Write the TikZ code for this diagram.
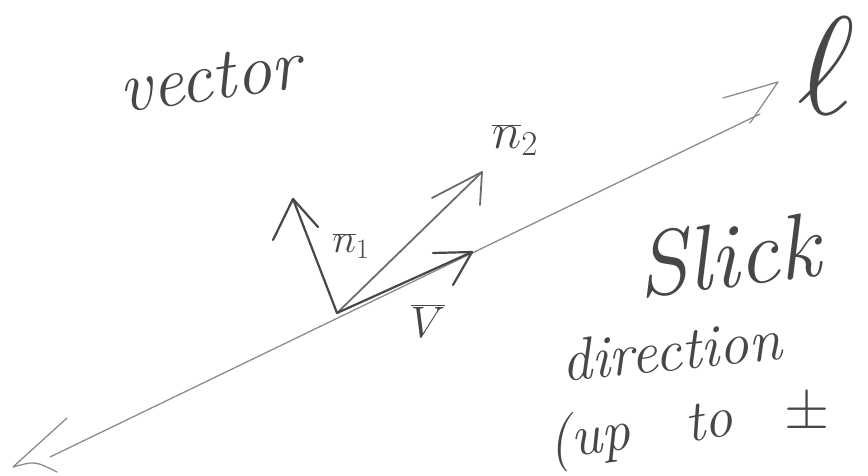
\RequirePackage{fix-cm}
\documentclass[tikz,border=0pt]{standalone}
\usepackage{fontspec}
\definecolor{pencil}{gray}{0.28}
\definecolor{pencillight}{gray}{0.55}
\begin{document}
\begin{tikzpicture}[x=1pt,y=-1pt,
  hand/.style={text=pencil, inner sep=0pt, font=\itshape},
  axisline/.style={draw=pencillight, line width=1.3pt, line cap=round, line join=round},
  vecline/.style={draw=pencil, line width=2.2pt, line cap=round, line join=round},
  veclight/.style={draw=pencil!80, line width=1.8pt, line cap=round, line join=round},
]
\useasboundingbox (0,0) rectangle (868,476);
% line l
\coordinate (O) at (337,313);
\coordinate (A) at (50,457);
\coordinate (B) at (760,114);
\coordinate (Ltip) at (13,467);
\coordinate (Lb1) at (67,418);
\coordinate (Lb2) at (57,472);
\coordinate (Rtip) at (778,82);
\coordinate (Rb1) at (723,98);
\coordinate (Rb2) at (750,123);
\draw[axisline] (A) -- (B);
\draw[axisline] (Lb1) -- (Ltip) .. controls (35,461) .. (Lb2);
\draw[axisline] (Rb1) -- (Rtip) -- (Rb2);
% vectors
\coordinate (N1) at (293,199);
\coordinate (N1a) at (273,240);
\coordinate (N1b) at (318,227);
\coordinate (N2) at (482,172);
\coordinate (N2a) at (432,198);
\coordinate (N2b) at (480,205);
\coordinate (Vt) at (472,252);
\coordinate (Va) at (433,253);
\coordinate (Vb) at (453,285);
\draw[vecline] (O) -- (N1);
\draw[vecline] (N1a) -- (N1) -- (N1b);
\draw[veclight] (O) -- (N2);
\draw[veclight] (N2a) -- (N2) -- (N2b);
\draw[vecline] (O) -- (Vt);
\draw[vecline] (Va) -- (Vt) -- (Vb);
% labels
\node[hand, font=\fontsize{40}{42}\selectfont] (ln1) at (351,246) {$\overline{n}_1$};
\node[hand, font=\fontsize{50}{52}\selectfont] (ln2) at (515,140) {$\overline{n}_2$};
\node[hand, font=\fontsize{44}{46}\selectfont] (lv) at (428,321) {$\overline{V}$};
\node[hand, font=\fontsize{140}{140}\selectfont] (ll) at (826,66) {$\ell$};
% texts
\node[hand, font=\itshape\fontsize{72}{80}\selectfont, anchor=base west, rotate=8] (tvec) at (122,113) {vector};
\node[hand, font=\itshape\fontsize{92}{96}\selectfont, anchor=base west, rotate=7] (tslick) at (640,298) {Slick};
\node[hand, font=\itshape\fontsize{60}{66}\selectfont, anchor=base west, rotate=6] (tdir) at (563,382) {direction};
\node[hand, font=\itshape\fontsize{58}{62}\selectfont, anchor=base west, rotate=8] (tup) at (550,460) {(up};
\node[hand, font=\itshape\fontsize{58}{62}\selectfont, anchor=base west, rotate=10] (tto) at (688,443) {to};
\node[hand, font=\fontsize{58}{60}\selectfont] (tpm) at (807,414) {$\pm$};
\end{tikzpicture}
\end{document}
